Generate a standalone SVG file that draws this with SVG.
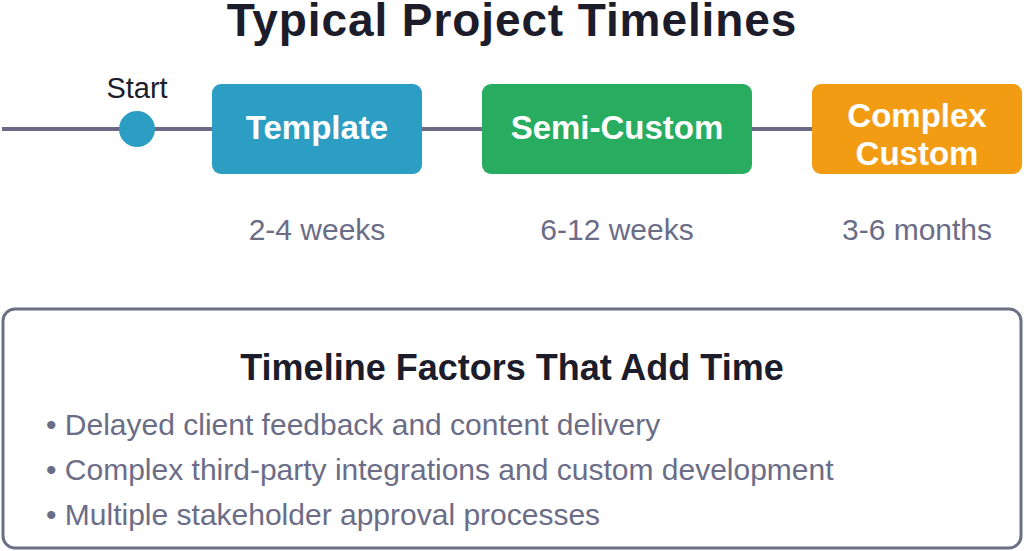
<svg xmlns="http://www.w3.org/2000/svg" width="1024" height="551" viewBox="0 0 1024 551">
<style>
  text { font-family: "Liberation Sans", Arial, sans-serif; }
  .title { font-size: 46px; font-weight: bold; fill: #1c1c2b; text-anchor: middle; letter-spacing: 0.9px; }
  .stage { font-size: 33px; font-weight: bold; fill: #ffffff; text-anchor: middle; }
  .dur { font-size: 30px; fill: #6b6d87; text-anchor: middle; }
  .start { font-size: 29px; fill: #1c1c2b; text-anchor: middle; }
  .head { font-size: 36px; font-weight: bold; fill: #1c1c2b; text-anchor: middle; }
  .bullet { font-size: 30px; fill: #6b6d87; }
  .conn { stroke: #6b6a86; stroke-width: 4; fill: none; }
</style>
<rect width="1024" height="551" fill="#ffffff"/>
<text class="title" x="512" y="36">Typical Project Timelines</text>
<g id="connectors">
  <line class="conn" x1="2" y1="129" x2="212" y2="129"/>
  <line class="conn" x1="422" y1="129" x2="482" y2="129"/>
  <line class="conn" x1="752" y1="129" x2="812" y2="129"/>
</g>
<g id="start">
  <circle cx="137" cy="129" r="18" fill="#2d9ec3"/>
  <text class="start" x="137" y="98">Start</text>
</g>
<g id="template">
  <rect x="212" y="84" width="210" height="90" rx="9" fill="#2d9ec3"/>
  <text class="stage" x="317" y="139">Template</text>
  <text class="dur" x="317" y="240">2-4 weeks</text>
</g>
<g id="semi-custom">
  <rect x="482" y="84" width="270" height="90" rx="9" fill="#28ad60"/>
  <text class="stage" x="617" y="139">Semi-Custom</text>
  <text class="dur" x="617" y="240">6-12 weeks</text>
</g>
<g id="complex-custom">
  <rect x="812" y="84" width="210" height="90" rx="9" fill="#f29c14"/>
  <text class="stage" x="917" y="127">Complex</text>
  <text class="stage" x="917" y="165">Custom</text>
  <text class="dur" x="917" y="240">3-6 months</text>
</g>
<g id="factors">
  <rect x="3" y="309" width="1018" height="239" rx="12" fill="#ffffff" stroke="#6b7085" stroke-width="3"/>
  <text class="head" x="512" y="380">Timeline Factors That Add Time</text>
  <text class="bullet" x="46" y="435">• Delayed client feedback and content delivery</text>
  <text class="bullet" x="46" y="480">• Complex third-party integrations and custom development</text>
  <text class="bullet" x="46" y="525">• Multiple stakeholder approval processes</text>
</g>
</svg>
